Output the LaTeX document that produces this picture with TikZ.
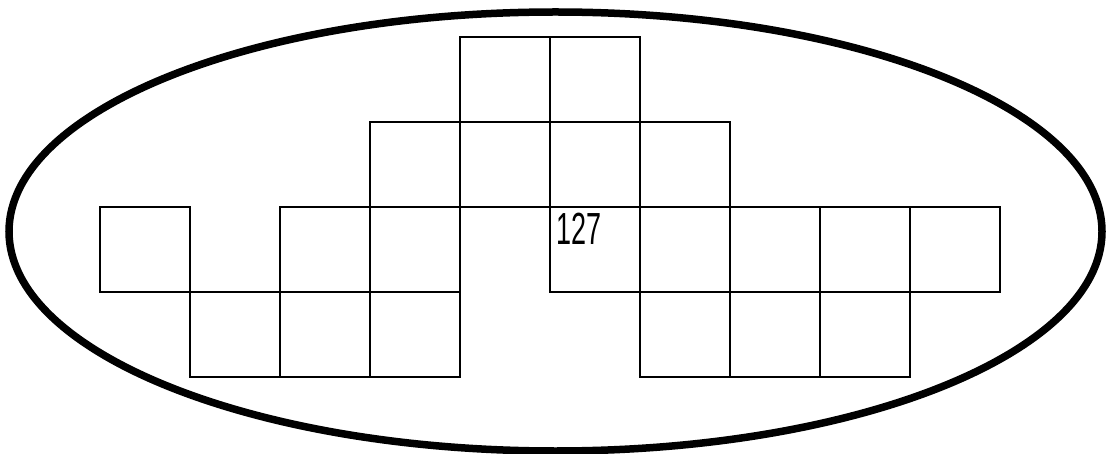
\documentclass[tikz,border=0pt]{standalone}
\usepackage{fontspec}
\newfontfamily\numfont{Liberation Sans}
\usetikzlibrary{shapes.geometric}
\tikzset{
  cell/.style={draw=black, line width=1.5pt, minimum width=90pt, minimum height=85pt, inner sep=0pt, outer sep=0pt, anchor=north west},
  oval/.style={draw=black, line width=7.5pt, ellipse, inner sep=0pt, minimum width=1093pt, minimum height=439pt},
  lbl/.style={anchor=north west, inner sep=0pt, font=\numfont\fontsize{45}{45}\selectfont}
}
\begin{document}
\begin{tikzpicture}[x=1pt,y=-1pt]
\useasboundingbox (0,0) rectangle (1108,454);
\node[oval] (oval) at (555.5,231.5) {};
% row 0
\node[cell] (r0a) at (460,37) {};
\node[cell] (r0b) at (550,37) {};
% row 1
\node[cell] (r1a) at (370,122) {};
\node[cell] (r1b) at (460,122) {};
\node[cell] (r1c) at (550,122) {};
\node[cell] (r1d) at (640,122) {};
% row 2
\node[cell] (r2a) at (100,207) {};
\node[cell] (r2b) at (280,207) {};
\node[cell] (r2c) at (370,207) {};
\node[cell] (r2d) at (550,207) {};
\node[cell] (r2e) at (640,207) {};
\node[cell] (r2f) at (730,207) {};
\node[cell] (r2g) at (820,207) {};
\node[cell] (r2h) at (910,207) {};
% row 3
\node[cell] (r3a) at (190,292) {};
\node[cell] (r3b) at (280,292) {};
\node[cell] (r3c) at (370,292) {};
\node[cell] (r3d) at (640,292) {};
\node[cell] (r3e) at (730,292) {};
\node[cell] (r3f) at (820,292) {};
% label
\node[lbl] (num) at ([xshift=6pt,yshift=-6pt]r2d.north west) {\scalebox{0.6}[1]{127}};
\end{tikzpicture}
\end{document}
